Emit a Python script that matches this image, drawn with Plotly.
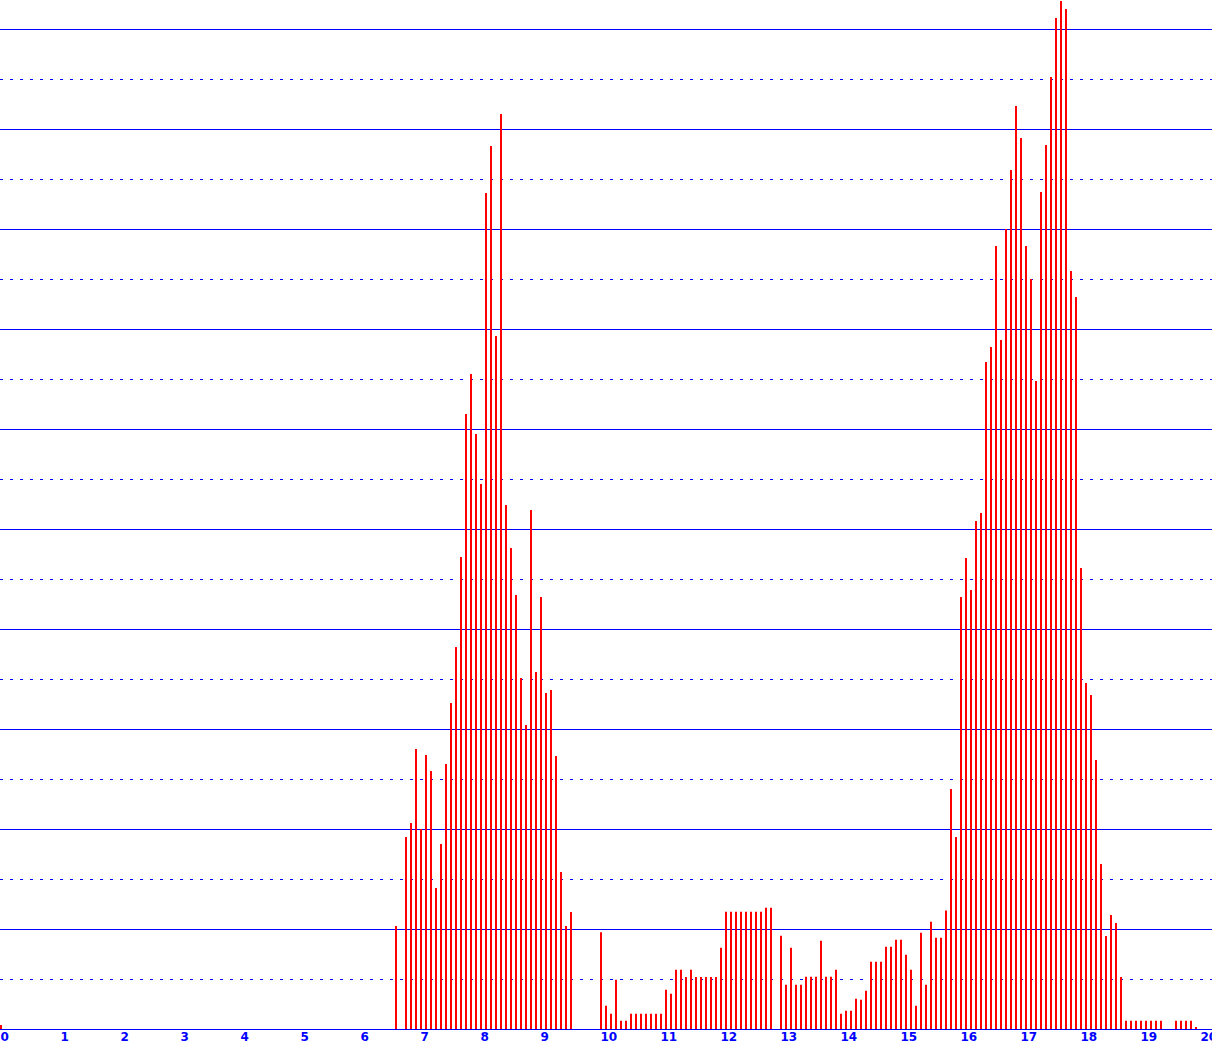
import plotly.graph_objects as go

BIN_MINUTES = 5

# start time of each run of consecutive 5-minute bins
run_starts = ["00:00", "06:35", "06:45", "10:00", "13:00", "18:45", "19:35"]

night_counts = [0.4]

early_counts = [10.3]

morning_counts = [
    19.2, 20.6, 28.0, 20.0, 27.4, 25.8, 14.1, 18.5, 26.5, 32.6,
    38.2, 47.2, 61.5, 65.5, 59.5, 54.5, 83.6, 88.3, 69.3, 91.5,
    52.4, 48.1, 43.4, 35.1, 30.4, 51.9, 35.7, 43.2, 33.6, 33.9,
    27.3, 15.7, 10.3, 11.7,
]

midday_counts = [
    9.67, 2.33, 1.53, 4.93, 0.83, 0.83, 1.53, 1.53, 1.53, 1.53,
    1.53, 1.53, 1.53, 3.93, 3.53, 5.93, 5.93, 5.2, 5.93, 5.2,
    5.2, 5.2, 5.2, 5.2, 8.13, 11.73, 11.73, 11.73, 11.73, 11.73,
    11.73, 11.73, 11.73, 12.13, 12.13,
]

afternoon_counts = [
    9.33, 4.43, 8.13, 4.43, 4.43, 5.23, 5.23, 5.23, 8.83, 5.23,
    5.23, 5.93, 1.53, 1.83, 1.83, 3.03, 2.93, 3.83, 6.73, 6.73,
    6.73, 8.23, 8.23, 8.93, 8.93, 7.43, 5.93, 2.33, 9.63, 4.43,
    10.73, 9.13, 9.13, 11.85, 24.0, 19.2, 43.2, 47.1, 43.9, 50.8,
    51.6, 66.7, 68.2, 78.3, 68.9, 80.0, 85.9, 92.3, 89.1, 78.3,
    75.0, 64.8, 83.7, 88.4, 95.2, 101.1, 102.8, 102.0, 75.8, 73.2,
    46.1, 34.6, 33.4, 26.9, 16.5, 9.3, 11.4, 10.6, 5.2,
]

evening_counts = [0.83, 0.83, 0.83, 0.83, 0.83, 0.83, 0.83, 0.83]

late_counts = [0.83, 0.83, 0.83, 0.83, 0.17]

hour_ticks = [0, 1, 2, 3, 4, 5, 6, 7, 8, 9, 10, 11, 12, 13, 14, 15, 16, 17, 18, 19, 20]

runs = [night_counts, early_counts, morning_counts, midday_counts,
        afternoon_counts, evening_counts, late_counts]

x_vals = []
y_vals = []
for start, counts in zip(run_starts, runs):
    hh, mm = start.split(":")
    t0 = int(hh) + int(mm) / 60
    for i, c in enumerate(counts):
        x_vals.append(t0 + i * BIN_MINUTES / 60)
        y_vals.append(c)

fig = go.Figure()
fig.add_trace(go.Bar(
    x=x_vals,
    y=y_vals,
    width=2 / 60,
    offset=0,
    marker_color='red',
    marker_line_width=0,
    hovertemplate='%{x:.2f} h: %{y}<extra></extra>'
))

fig.update_layout(
    width=1212,
    height=1049,
    margin=dict(l=0, r=0, t=0, b=20, pad=0),
    paper_bgcolor='white',
    plot_bgcolor='white',
    showlegend=False,
    xaxis=dict(
        range=[0, 20.2],
        automargin=False,
        tickvals=hour_ticks,
        ticktext=[str(h) for h in hour_ticks],
        ticks='',
        showgrid=False,
        zeroline=False,
        showline=True,
        linecolor='blue',
        linewidth=1,
        ticklabelposition='outside right',
        ticklabeloverflow='allow',
        ticklabelstandoff=-3,
        tickfont=dict(family='DejaVu Sans', size=12, color='blue', weight='bold'),
    ),
    yaxis=dict(
        range=[0, 102.9],
        automargin=False,
        tick0=0,
        dtick=10,
        showticklabels=False,
        ticks='',
        showgrid=True,
        gridcolor='blue',
        gridwidth=1,
        zeroline=False,
        minor=dict(
            tick0=0,
            dtick=5,
            showgrid=True,
            gridcolor='blue',
            gridwidth=1,
            griddash='3px,7px',
        ),
    ),
)

# drop the default 8px page margin so the chart fills the window
fig.write_html(
    "out.html",
    config={'displayModeBar': False},
    post_script="document.body.style.margin = '0';"
)
